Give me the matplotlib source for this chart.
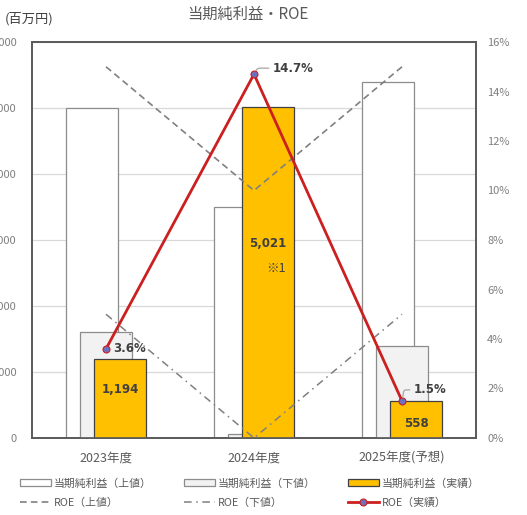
import matplotlib
matplotlib.use("Agg")
import matplotlib.pyplot as plt
from matplotlib.lines import Line2D
from matplotlib.patches import Patch
import numpy as np

plt.rcParams['font.family'] = ['Noto Sans CJK JP', 'DejaVu Sans']

# ---- data ----
years = ["2023年度", "2024年度", "2025年度(予想)"]
profit_upper = [5000, 3500, 5400]      # 当期純利益（上値）
profit_lower = [1600, 60, 1400]        # 当期純利益（下値）
profit_actual = [1194, 5021, 558]      # 当期純利益（実績）
roe_upper = [15.0, 10.0, 15.0]         # ROE（上値）
roe_lower = [5.0, 0.0, 5.0]            # ROE（下値）
roe_actual = [3.6, 14.7, 1.5]          # ROE（実績）
left_ticks = [0, 1000, 2000, 3000, 4000, 5000, 6000]
right_ticks = [0, 2, 4, 6, 8, 10, 12, 14, 16]

W, H = 527, 515
fig = plt.figure(figsize=(W / 100, H / 100), dpi=100)
ax = fig.add_axes([32 / W, 1 - 438 / H, 444 / W, 396 / H])
ax2 = ax.twinx()

x = np.arange(len(years))
bw = 0.35
off = 0.095

frame_c = "#595959"
grid_c = "#d9d9d9"
tick_c = "#7f7f7f"
red = "#cc1f1f"
gray_line = "#808080"

ax.set_axisbelow(True)
ax.yaxis.grid(True, color=grid_c, lw=0.9)
ax.bar(x - off, profit_upper, bw, facecolor="white", edgecolor="#8c8c8c", lw=0.9, zorder=2)
ax.bar(x, profit_lower, bw, facecolor="#f2f2f2", edgecolor="#8c8c8c", lw=0.9, zorder=3)
ax.bar(x + off, profit_actual, bw, facecolor="#ffc000", edgecolor="#404040", lw=0.9, zorder=4)

ax.set_xlim(-0.5, 2.5)
ax.set_ylim(0, 6000)
ax.set_yticks(left_ticks)
ax.set_yticklabels([f"{v:,}" for v in left_ticks])
ax.set_xticks(x)
ax.set_xticklabels(years)
ax.tick_params(axis="y", length=0, pad=11, labelsize=8, labelcolor=tick_c)
ax.tick_params(axis="x", length=0, pad=10, labelsize=9, labelcolor="#595959")
for s in ax.spines.values():
    s.set_color(frame_c)
    s.set_linewidth(1.2)
for s in ax2.spines.values():
    s.set_color(frame_c)
    s.set_linewidth(1.2)

# ROE lines on the right axis
ax2.plot(x, roe_upper, color=gray_line, lw=1.2, ls=(0, (4, 2.5)))
ax2.plot(x, roe_lower, color=gray_line, lw=1.1, ls=(0, (5, 3, 1, 3)))
ax2.plot(x, roe_actual, color=red, lw=2.0, marker="o", ms=5,
         mfc="#6f6fc0", mec=red, mew=0.8, zorder=5)
ax2.set_ylim(0, 16)
ax2.set_yticks(right_ticks)
ax2.set_yticklabels([f"{v}%" for v in right_ticks])
ax2.tick_params(axis="y", length=0, pad=8, labelsize=8, labelcolor=tick_c)

# bar value labels
lab_c = "#404040"
bfont = dict(family="DejaVu Sans", fontweight="bold", fontsize=8.5, color=lab_c,
             ha="center", va="center")
ax.text(x[0] + off, profit_actual[0] * 0.61, f"{profit_actual[0]:,}", zorder=6, **bfont)
ax.text(x[1] + off, profit_actual[1] * 0.586, f"{profit_actual[1]:,}", zorder=6, **bfont)
ax.text(x[1] + off + 0.055, profit_actual[1] * 0.51, "※1", fontsize=9, color=lab_c,
        ha="center", va="center", zorder=6)
ax.text(x[2] + off, profit_actual[2] * 0.4, f"{profit_actual[2]:,}", zorder=6, **bfont)

# ROE value labels
rfont = dict(family="DejaVu Sans", fontweight="bold", fontsize=8.5, color=lab_c)
ax2.annotate(f"{roe_actual[0]}%", xy=(x[0], roe_actual[0]), xytext=(7, 0),
             textcoords="offset pixels", va="center", ha="left", zorder=6, **rfont)
ax2.annotate(f"{roe_actual[1]}%", xy=(x[1], roe_actual[1]), xytext=(19, 6),
             textcoords="offset pixels", va="center", ha="left", zorder=6,
             arrowprops=dict(arrowstyle="-", color="#a6a6a6", lw=0.9,
                             shrinkA=1, shrinkB=3, relpos=(0, 0.5),
                             connectionstyle="angle,angleA=0,angleB=60,rad=2"),
             **rfont)
ax2.annotate(f"{roe_actual[2]}%", xy=(x[2], roe_actual[2]), xytext=(12, 11),
             textcoords="offset pixels", va="center", ha="left", zorder=6,
             arrowprops=dict(arrowstyle="-", color="#a6a6a6", lw=0.9,
                             shrinkA=1, shrinkB=3, relpos=(0, 0.5),
                             connectionstyle="angle,angleA=0,angleB=80,rad=2"),
             **rfont)

# titles
fig.text(248 / W, 1 - 14 / H, "当期純利益・ROE", ha="center", va="center",
         fontsize=11, color="#595959")
fig.text(5 / W, 1 - 19 / H, "(百万円)", ha="left", va="center", fontsize=9.5, color="#404040")

# legend
handles = [
    Patch(facecolor="white", edgecolor="#8c8c8c", lw=0.9),
    Line2D([], [], color=gray_line, lw=1.2, ls=(0, (4, 2.5))),
    Patch(facecolor="#f2f2f2", edgecolor="#8c8c8c", lw=0.9),
    Line2D([], [], color=gray_line, lw=1.1, ls=(0, (5, 3, 1, 3))),
    Patch(facecolor="#ffc000", edgecolor="#404040", lw=0.9),
    Line2D([], [], color=red, lw=2.0, marker="o", ms=5, mfc="#6f6fc0", mec=red, mew=0.8),
]
labels = ["当期純利益（上値）", "ROE（上値）", "当期純利益（下値）", "ROE（下値）",
          "当期純利益（実績）", "ROE（実績）"]
fig.legend(handles, labels, ncol=3, loc="center", bbox_to_anchor=(250 / W, 22 / H),
           frameon=False, fontsize=7.8, handlelength=2.8, handletextpad=0.3,
           columnspacing=3.0, labelspacing=0.85, labelcolor="#595959")

fig.savefig("out.png", dpi=100)
